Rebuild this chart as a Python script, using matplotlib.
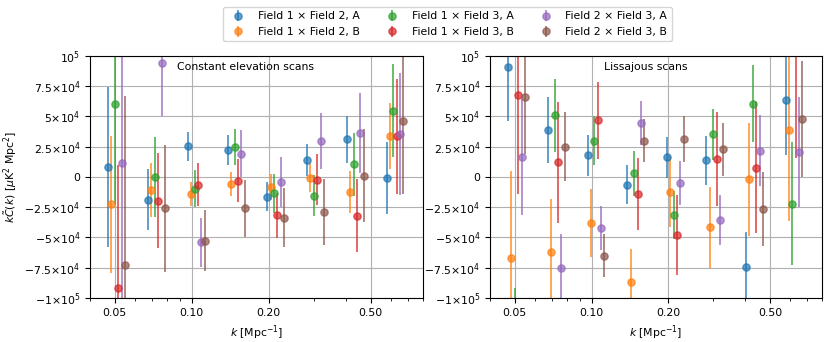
#!/usr/bin/env python3
# -*- coding: utf-8 -*-
"""
Espectro cruzado kC(k) entre pares de campos, para dos tipos de escaneo.
"""

import numpy as np
import matplotlib
matplotlib.use("Agg")
import matplotlib.pyplot as plt
from matplotlib.ticker import FixedLocator, FixedFormatter, NullFormatter

# --- Datos ---
k_centres = [0.0508, 0.0728, 0.1041, 0.1491, 0.2128, 0.3041, 0.4349, 0.6217]

labels = ["Field 1 × Field 2, A", "Field 1 × Field 2, B",
          "Field 1 × Field 3, A", "Field 1 × Field 3, B",
          "Field 2 × Field 3, A", "Field 2 × Field 3, B"]

# Constant elevation scans
ces_f12_a = [8.5e3, -1.87e4, 2.55e4, 2.23e4, -1.62e4, 1.4e4, 3.13e4, -5e2]
ces_f12_a_err = [6.6e4, 2.5e4, 1.2e4, 1.2e4, 1.2e4, 1.35e4, 1.95e4, 2.97e4]
ces_f12_b = [-2.25e4, -1.07e4, -1.43e4, -5.5e3, -8.5e3, -5e2, -1.26e4, 3.4e4]
ces_f12_b_err = [5.65e4, 2.2e4, 1.0e4, 1.0e4, 1.07e4, 1.2e4, 1.75e4, 2.7e4]
ces_f13_a = [6.07e4, 0.0, -9.6e3, 2.47e4, -1.35e4, -1.54e4, 1.05e4, 5.47e4]
ces_f13_a_err = [8.3e4, 3.3e4, 1.55e4, 1.5e4, 1.6e4, 1.7e4, 2.6e4, 3.85e4]
ces_f13_b = [-9.2e4, -1.95e4, -6.3e3, -3e3, -3.17e4, -2.2e3, -3.2e4, 3.35e4]
ces_f13_b_err = [1.02e5, 3.95e4, 1.8e4, 1.8e4, 1.85e4, 2.1e4, 3e4, 4.75e4]
ces_f23_a = [1.15e4, 9.45e4, -5.4e4, 1.92e4, -3.9e3, 2.97e4, 3.63e4, 3.57e4]
ces_f23_a_err = [1.25e5, 4.4e4, 2.05e4, 1.95e4, 2.05e4, 2.3e4, 3.3e4, 5.05e4]
ces_f23_b = [-7.3e4, -2.6e4, -5.25e4, -2.6e4, -3.35e4, -2.88e4, 1.1e3, 4.6e4]
ces_f23_b_err = [1.4e5, 5.25e4, 2.5e4, 2.35e4, 2.4e4, 2.7e4, 3.85e4, 6e4]

# Lissajous scans
liss_f12_a = [9.1e4, 3.87e4, 1.79e4, -6.4e3, 1.62e4, 1.37e4, -7.4e4, 6.35e4]
liss_f12_a_err = [4.5e4, 2.75e4, 1.7e4, 1.6e4, 1.72e4, 2.02e4, 2.86e4, 4.5e4]
liss_f12_b = [-6.73e4, -6.2e4, -3.82e4, -8.7e4, -1.2e4, -4.15e4, -1.9e3, 3.85e4]
liss_f12_b_err = [7.2e4, 4.4e4, 2.8e4, 2.75e4, 2.9e4, 3.35e4, 4.67e4, 7.45e4]
liss_f13_a = [-1.35e5, 5.1e4, 3.0e4, 3e3, -3.13e4, 3.52e4, 6.07e4, -2.2e4]
liss_f13_a_err = [4.3e4, 3e4, 2e4, 1.85e4, 2e4, 2.1e4, 3.2e4, 5.1e4]
liss_f13_b = [6.8e4, 1.2e4, 4.67e4, -1.4e4, -4.78e4, 1.48e4, 7.7e3, 1.15e5]
liss_f13_b_err = [8.2e4, 5e4, 3.2e4, 3e4, 3.3e4, 3.85e4, 5.4e4, 9.9e4]
liss_f23_a = [1.67e4, -7.5e4, -4.23e4, 4.48e4, -4.9e3, -3.55e4, 2.17e4, 2.06e4]
liss_f23_a_err = [4.8e4, 2.8e4, 1.8e4, 1.8e4, 1.8e4, 2.05e4, 2.95e4, 4.55e4]
liss_f23_b = [6.6e4, 2.5e4, -6.5e4, 3e4, 3.1e4, 2.28e4, -2.64e4, 4.78e4]
liss_f23_b_err = [4.7e4, 2.85e4, 1.8e4, 1.8e4, 1.9e4, 2.17e4, 3.05e4, 4.8e4]

y_ticks = [-1e5, -7.5e4, -5e4, -2.5e4, 0, 2.5e4, 5e4, 7.5e4, 1e5]
y_ticklabels = ["−1×10$^{5}$", "−7.5×10$^{4}$", "−5×10$^{4}$",
                "−2.5×10$^{4}$", "0", "2.5×10$^{4}$",
                "5×10$^{4}$", "7.5×10$^{4}$", "10$^{5}$"]
x_ticks = [0.05, 0.1, 0.2, 0.5]
x_ticklabels = ["0.05", "0.10", "0.20", "0.50"]


def draw_panel(ax, series, title, title_x, with_labels):
    k = np.array(k_centres)
    n = len(series)
    for i, (vals, errs) in enumerate(series):
        # desplazamiento multiplicativo para que no se solapen
        shift = 1.0308 ** (i - (n - 1) / 2)
        ax.errorbar(k * shift, vals, yerr=errs, fmt="o", color=f"C{i}",
                    alpha=0.7, markersize=5.2, elinewidth=1.4,
                    label=labels[i] if with_labels else None)

    ax.set_xscale("log")
    ax.set_xlim(0.04, 0.8)
    ax.set_ylim(-1e5, 1e5)
    ax.xaxis.set_major_locator(FixedLocator(x_ticks))
    ax.xaxis.set_major_formatter(FixedFormatter(x_ticklabels))
    ax.xaxis.set_minor_formatter(NullFormatter())
    ax.yaxis.set_major_locator(FixedLocator(y_ticks))
    ax.yaxis.set_major_formatter(FixedFormatter(y_ticklabels))
    ax.grid(True, which="major")
    ax.set_axisbelow(True)
    ax.set_xlabel(r"$k$ [Mpc$^{-1}$]")
    ax.text(title_x, 0.975, title, transform=ax.transAxes, va="top", ha="left")


def main():
    plt.rcParams["font.size"] = 7.8

    fig = plt.figure(figsize=(8.3, 3.42), dpi=100)
    ax1 = fig.add_axes([0.1084, 0.1287, 0.4012, 0.7076])
    ax2 = fig.add_axes([0.5904, 0.1287, 0.4, 0.7076])

    ces = [(ces_f12_a, ces_f12_a_err), (ces_f12_b, ces_f12_b_err),
           (ces_f13_a, ces_f13_a_err), (ces_f13_b, ces_f13_b_err),
           (ces_f23_a, ces_f23_a_err), (ces_f23_b, ces_f23_b_err)]
    liss = [(liss_f12_a, liss_f12_a_err), (liss_f12_b, liss_f12_b_err),
            (liss_f13_a, liss_f13_a_err), (liss_f13_b, liss_f13_b_err),
            (liss_f23_a, liss_f23_a_err), (liss_f23_b, liss_f23_b_err)]

    draw_panel(ax1, ces, "Constant elevation scans", 0.262, True)
    draw_panel(ax2, liss, "Lissajous scans", 0.342, False)
    ax1.set_ylabel(r"$k\tilde{C}(k)$ [$\mu$K$^2$ Mpc$^2$]")

    handles, labs = ax1.get_legend_handles_labels()
    fig.legend(handles, labs, loc="upper center", ncol=3,
               bbox_to_anchor=(0.539, 0.995), columnspacing=2.0)

    fig.savefig("out.png", dpi=100)


if __name__ == "__main__":
    main()
